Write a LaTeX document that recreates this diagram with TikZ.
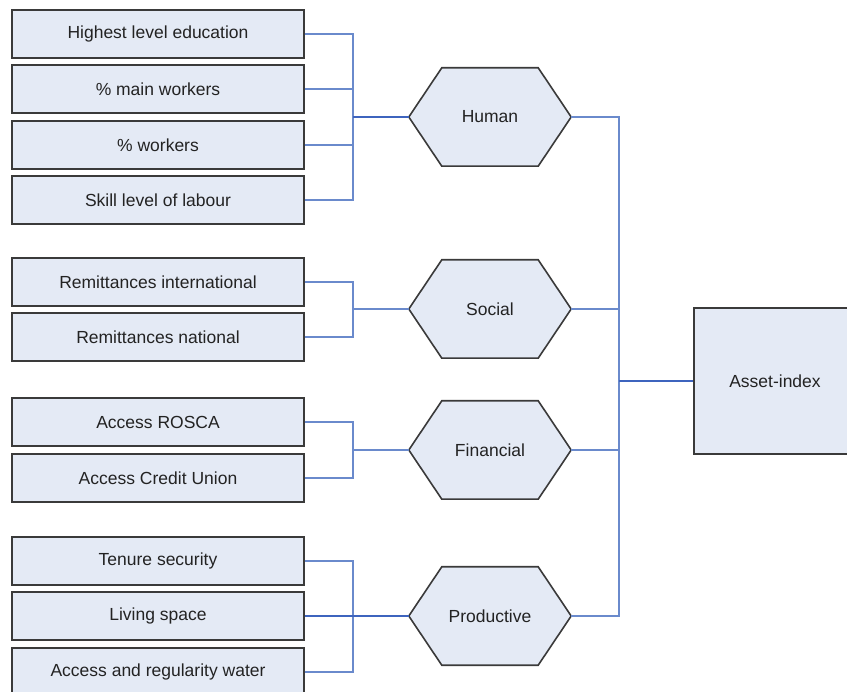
\documentclass[tikz,border=0pt]{standalone}
\usepackage{fontspec}
\setmainfont{Liberation Sans}
\usetikzlibrary{backgrounds}
\definecolor{boxfill}{RGB}{228,234,245}
\definecolor{boxedge}{RGB}{58,58,58}
\definecolor{wire}{RGB}{106,138,204}
\definecolor{wirebold}{RGB}{62,100,190}
\definecolor{txt}{RGB}{35,35,35}
\begin{document}
\begin{tikzpicture}[x=1pt,y=-1pt,
  every node/.style={font=\fontsize{17.5}{20}\selectfont, text=txt},
  itembox/.style={draw=boxedge, line width=1.8pt, fill=boxfill, minimum width=292pt, minimum height=48pt, inner sep=0pt},
  hexnode/.style={minimum width=162pt, minimum height=98pt, inner sep=0pt},
  hexline/.style={draw=boxedge, line width=1.6pt, fill=boxfill, line join=miter},
  wireline/.style={draw=wire, line width=1.5pt},
  boldline/.style={draw=wirebold, line width=2pt}]
\useasboundingbox (0,0) rectangle (847,692);
% left items
\node[itembox] (b1) at (158,34) {Highest level education};
\node[itembox] (b2) at (158,89) {\% main workers};
\node[itembox] (b3) at (158,145) {\% workers};
\node[itembox] (b4) at (158,200) {Skill level of labour};
\node[itembox] (s1) at (158,282) {Remittances international};
\node[itembox] (s2) at (158,337) {Remittances national};
\node[itembox] (f1) at (158,422) {Access ROSCA};
\node[itembox] (f2) at (158,478) {Access Credit Union};
\node[itembox] (p1) at (158,561) {Tenure security};
\node[itembox] (p2) at (158,616) {Living space};
\node[itembox] (p3) at (158,672) {Access and regularity water};
% hexagons
\node[hexnode] (hum) at (490,117) {Human};
\node[hexnode] (soc) at (490,309) {Social};
\node[hexnode] (fin) at (490,450) {Financial};
\node[hexnode] (pro) at (490,616) {Productive};
\begin{scope}[on background layer]
\fill[white] (0,0) rectangle (847,692);
\foreach \h in {hum,soc,fin,pro}{
  \path[hexline] (\h.west) -- ([xshift=33pt]\h.north west) -- ([xshift=-33pt]\h.north east)
     -- (\h.east) -- ([xshift=-33pt]\h.south east) -- ([xshift=33pt]\h.south west) -- cycle;
}
\end{scope}
% asset index
\node[draw=boxedge, line width=1.8pt, fill=boxfill, minimum width=162pt, minimum height=146pt, inner sep=0pt] (asset) at (775,381) {Asset-index};
% left buses
\coordinate (hb) at (353,117);
\coordinate (sb) at (353,309);
\coordinate (fb) at (353,450);
\coordinate (pb) at (353,616);
\path[wireline] (b1.east) -| (hb);
\path[wireline] (b4.east) -| (hb);
\path[wireline] (b2.east) -- (b2.east -| hb);
\path[wireline] (b3.east) -- (b3.east -| hb);
\path[boldline] (hb) -- (hum.west);
\path[wireline] (s1.east) -| (sb);
\path[wireline] (s2.east) -| (sb);
\path[wireline] (sb) -- (soc.west);
\path[wireline] (f1.east) -| (fb);
\path[wireline] (f2.east) -| (fb);
\path[wireline] (fb) -- (fin.west);
\path[wireline] (p1.east) -| (pb);
\path[wireline] (p3.east) -| (pb);
\path[boldline] (p2.east) -- (pro.west);
% right bus
\coordinate (rb) at (619,381);
\path[wireline] (hum.east) -| (rb);
\path[wireline] (pro.east) -| (rb);
\path[wireline] (soc.east) -- (soc.east -| rb);
\path[wireline] (fin.east) -- (fin.east -| rb);
\path[boldline] (rb) -- (asset.west);
\end{tikzpicture}
\end{document}
